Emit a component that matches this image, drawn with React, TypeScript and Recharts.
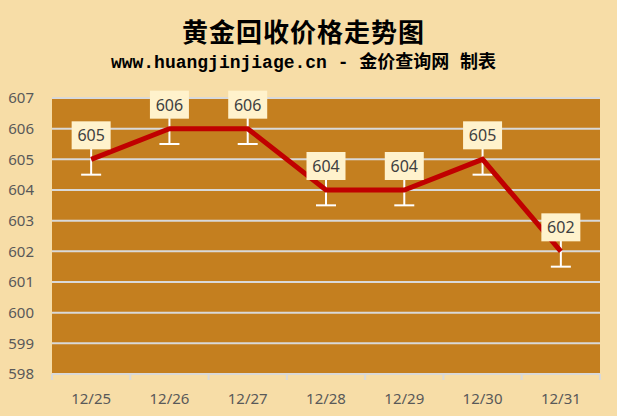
import React from 'react';
import { LineChart, Line, XAxis, YAxis, CartesianGrid, ErrorBar, LabelList } from 'recharts';

const categories = ['12/25', '12/26', '12/27', '12/28', '12/29', '12/30', '12/31'];
const prices = [605, 606, 606, 604, 604, 605, 602];
const yTicks = [598, 599, 600, 601, 602, 603, 604, 605, 606, 607];
const errorSize = 0.5;

const data = categories.map((c, i) => ({ date: c, price: prices[i], err: [errorSize, errorSize] }));

const W = 617;
const H = 416;
const M = { top: 98, right: 17, left: 8, bottom: 12 };
const Y_AXIS_W = 44;
const PLOT_W = W - M.left - M.right - Y_AXIS_W;
const HALF_BAND = PLOT_W / categories.length / 2;

const AXIS_FONT = '"Noto Sans", "DejaVu Sans", sans-serif';

const XTick = (props: any) => {
  const { x, y, payload, index } = props;
  const last = index === categories.length - 1;
  return (
    <g>
      <line x1={x - HALF_BAND} x2={x - HALF_BAND} y1={y} y2={y + 6} stroke="#D9D9D9" strokeWidth={2} />
      {last && <line x1={x + HALF_BAND} x2={x + HALF_BAND} y1={y} y2={y + 6} stroke="#D9D9D9" strokeWidth={2} />}
      <text x={x} y={y + 24} textAnchor="middle" dominantBaseline="central" fill="#595959" fontSize={15} fontFamily={AXIS_FONT}>
        {payload.value}
      </text>
    </g>
  );
};

const ValueLabel = (props: any) => {
  const { x, y, value } = props;
  const bw = 39;
  const bh = 28;
  return (
    <g>
      <rect x={x - bw / 2} y={y - 38} width={bw} height={bh} fill="#FFF2CC" />
      <text x={x} y={y - 24} textAnchor="middle" dominantBaseline="central" fill="#404040" fontSize={16} fontFamily={AXIS_FONT}>
        {value}
      </text>
    </g>
  );
};

export default function App() {
  return (
    <div style={{ position: 'fixed', left: 0, top: 0, width: W, height: H, background: '#F7DDA7' }}>
      <div style={{ position: 'absolute', left: 0, width: W, top: 14, textAlign: 'center', fontFamily: '"Noto Sans CJK SC", sans-serif', fontWeight: 700, fontSize: 26, lineHeight: '34px', color: '#000', letterSpacing: 1 }}>
        <span style={{ position: 'relative', left: -5 }}>黄金回收价格走势图</span>
      </div>
      <div style={{ position: 'absolute', left: 0, width: W, top: 51, textAlign: 'center', fontFamily: '"Liberation Mono", "Noto Sans CJK SC", monospace', fontWeight: 700, fontSize: 18, lineHeight: '24px', color: '#000' }}>
        <span style={{ position: 'relative', left: -5 }}>www.huangjinjiage.cn - 金价查询网 制表</span>
      </div>
      <div style={{ position: 'absolute', left: 0, top: 0 }}>
        <LineChart width={W} height={H} data={data} margin={M}>
          <CartesianGrid vertical={false} fill="#C47F1F" fillOpacity={1} stroke="#D9D9D9" strokeWidth={2} />
          <XAxis
            dataKey="date"
            axisLine={{ stroke: '#D9D9D9', strokeWidth: 2 }}
            tickLine={false}
            tickSize={0}
            tickMargin={0}
            height={30}
            interval={0}
            padding={{ left: HALF_BAND, right: HALF_BAND }}
            tick={<XTick />}
          />
          <YAxis
            domain={[598, 607]}
            ticks={yTicks}
            width={Y_AXIS_W}
            axisLine={false}
            tickLine={false}
            tickSize={0}
            tickMargin={18}
            interval={0}
            tick={{ fill: '#595959', fontSize: 15, fontFamily: AXIS_FONT }}
          />
          <Line type="linear" dataKey="price" stroke="#C00000" strokeWidth={5} dot={false} isAnimationActive={false}>
            <ErrorBar dataKey="err" direction="y" stroke="#FFFFFF" strokeWidth={2} width={10} />
            <LabelList dataKey="price" content={<ValueLabel />} />
          </Line>
        </LineChart>
      </div>
    </div>
  );
}
